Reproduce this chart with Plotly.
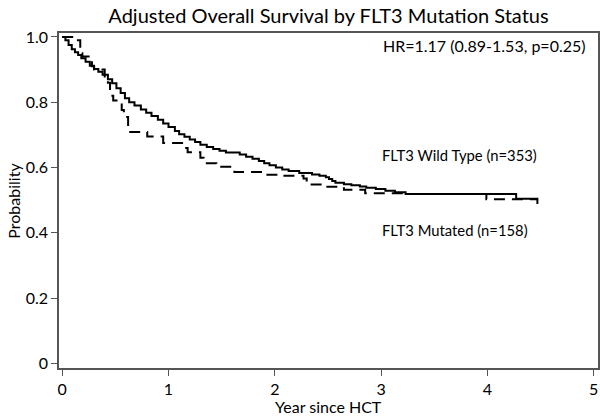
import plotly.graph_objects as go

# Wild type (solid) step curve
wt_time = [0, 0.03, 0.06, 0.09, 0.12, 0.15, 0.18, 0.22, 0.26, 0.30, 0.34, 0.38, 0.43, 0.47, 0.51,
           0.55, 0.59, 0.63, 0.68, 0.74, 0.79, 0.84, 0.90, 0.95, 1.00, 1.06, 1.10, 1.15, 1.20, 1.25,
           1.30, 1.36, 1.42, 1.48, 1.54, 1.67, 1.73, 1.79, 1.85, 1.90, 1.95, 2.01, 2.07, 2.13, 2.23,
           2.35, 2.42, 2.48, 2.51, 2.54, 2.57, 2.65, 2.72, 2.80, 2.86, 2.95, 3.04, 3.13, 3.23, 4.27,
           4.47]
wt_surv = [1.0, 0.99, 0.975, 0.962, 0.953, 0.945, 0.935, 0.924, 0.912, 0.902, 0.893, 0.884, 0.870,
           0.858, 0.843, 0.828, 0.812, 0.800, 0.790, 0.778, 0.768, 0.758, 0.746, 0.735, 0.724, 0.712,
           0.702, 0.694, 0.686, 0.678, 0.670, 0.663, 0.657, 0.651, 0.646, 0.640, 0.633, 0.627, 0.620,
           0.613, 0.607, 0.600, 0.594, 0.589, 0.583, 0.579, 0.575, 0.570, 0.565, 0.559, 0.553, 0.549,
           0.546, 0.542, 0.538, 0.534, 0.529, 0.524, 0.519, 0.504, 0.488]

# Mutated (dashed) step curve
mut_time = [0, 0.11, 0.17, 0.19, 0.28, 0.30, 0.40, 0.43, 0.45, 0.48, 0.56, 0.58, 0.62, 0.64, 0.80,
            0.95, 1.15, 1.18, 1.30, 1.33, 1.45, 1.62, 1.88, 2.05, 2.27, 2.30, 2.45, 2.65, 2.85, 3.23,
            3.99, 4.47]
mut_surv = [1.0, 0.99, 0.95, 0.94, 0.91, 0.90, 0.875, 0.86, 0.82, 0.805, 0.776, 0.755, 0.724, 0.709,
            0.695, 0.675, 0.660, 0.647, 0.630, 0.613, 0.602, 0.586, 0.578, 0.575, 0.566, 0.548,
            0.541, 0.532, 0.521, 0.519, 0.503, 0.503]

x_ticks = [0, 1, 2, 3, 4, 5]
y_ticks = [0, 0.2, 0.4, 0.6, 0.8, 1.0]
y_tick_text = ["0", "0.2", "0.4", "0.6", "0.8", "1.0"]

FONT = "Lato"

fig = go.Figure()
fig.add_trace(go.Scatter(x=wt_time, y=wt_surv, mode="lines", line_shape="hv",
                         line=dict(color="black", width=2), name="FLT3 Wild Type"))
fig.add_trace(go.Scatter(x=mut_time, y=mut_surv, mode="lines", line_shape="hv",
                         line=dict(color="black", width=2, dash="11px,7px"), name="FLT3 Mutated"))

fig.add_annotation(x=4.95, y=0.975, xref="x", yref="y", text="HR=1.17 (0.89-1.53, p=0.25)",
                   showarrow=False, xanchor="right", yanchor="middle",
                   font=dict(family=FONT, size=16, color="black"))
fig.add_annotation(x=2.99, y=0.637, xref="x", yref="y", text="FLT3 Wild Type (n=353)",
                   showarrow=False, xanchor="left", yanchor="middle",
                   font=dict(family=FONT, size=14.8, color="black"))
fig.add_annotation(x=2.99, y=0.41, xref="x", yref="y", text="FLT3 Mutated (n=158)",
                   showarrow=False, xanchor="left", yanchor="middle",
                   font=dict(family=FONT, size=14.8, color="black"))
# axis titles
fig.add_annotation(x=0.5, y=-0.115, xref="paper", yref="paper", text="Year since HCT",
                   showarrow=False, xanchor="center", yanchor="middle",
                   font=dict(family=FONT, size=16, color="black"))
fig.add_annotation(x=-0.085, y=0.5, xref="paper", yref="paper", text="Probability",
                   showarrow=False, xanchor="center", yanchor="middle", textangle=-90,
                   font=dict(family=FONT, size=16, color="black"))

fig.update_layout(
    width=600, height=418,
    margin=dict(l=59, r=2, t=33, b=50, autoexpand=False),
    paper_bgcolor="white", plot_bgcolor="white",
    showlegend=False,
    title=dict(text="Adjusted Overall Survival by FLT3 Mutation Status", x=0.5, xref="paper",
               xanchor="center", y=0.962, yanchor="middle",
               font=dict(family=FONT, size=20, color="black")),
    font=dict(family=FONT, color="black"),
)
fig.update_xaxes(range=[-0.03, 5.04], tickvals=x_ticks, ticks="outside", ticklen=6,
                 tickcolor="#555", showline=True, linecolor="#555", linewidth=1.5, mirror=True,
                 showgrid=False, zeroline=False, automargin=False, ticklabeloverflow="allow",
                 tickfont=dict(family=FONT, size=16, color="black"))
fig.update_yaxes(range=[-0.014, 1.012], tickvals=y_ticks, ticktext=y_tick_text, ticks="outside",
                 ticklen=6, tickcolor="#555", showline=True, linecolor="#555", linewidth=1.5,
                 mirror=True, showgrid=False, zeroline=False, automargin=False,
                 tickfont=dict(family=FONT, size=16, color="black"))

fig.write_html("out.html", config={"displayModeBar": False},
               post_script="document.body.style.margin='0';document.body.style.overflow='hidden';")
